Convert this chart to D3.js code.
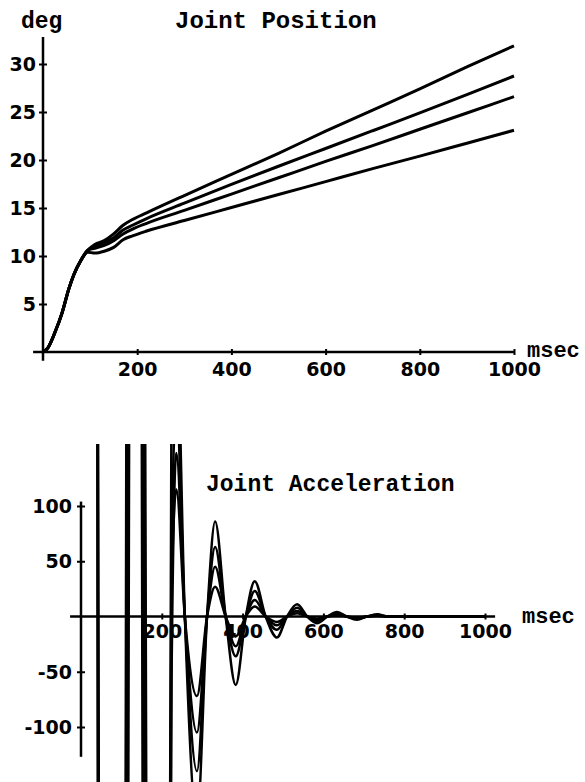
<!DOCTYPE html>
<html>
<head>
<meta charset="utf-8">
<script src="https://cdn.jsdelivr.net/npm/d3@7"></script>
<style>
  body { margin: 0; background: #fff; }
  svg { display: block; }
  .tick text { font-family: "DejaVu Sans", sans-serif; font-weight: bold; font-size: 19px; fill: #000; }
  .mono { font-family: "Liberation Mono", "Courier New", monospace; font-weight: bold; fill: #000; }
</style>
</head>
<body>
<script>
// Joint position (deg) against time (msec), four trials
const posTime = [0, 10, 25, 40, 55, 65, 80, 95, 110, 130, 150, 170, 190, 220, 300, 400, 500, 600, 700, 800, 900, 1000];
const posA = [0, 0.4, 2.0, 4.0, 6.6, 8.0, 9.5, 10.6, 11.2, 11.6, 12.3, 13.2, 13.8, 14.5, 16.3, 18.5, 20.7, 23.0, 25.2, 27.4, 29.7, 31.9];
const posB = [0, 0.4, 2.0, 4.0, 6.6, 8.0, 9.5, 10.6, 11.0, 11.4, 11.9, 12.7, 13.2, 13.9, 15.5, 17.45, 19.35, 21.2, 23.05, 24.9, 26.8, 28.75];
const posC = [0, 0.4, 2.0, 4.0, 6.6, 8.0, 9.5, 10.6, 10.8, 11.1, 11.6, 12.3, 12.8, 13.4, 14.75, 16.45, 18.15, 19.85, 21.5, 23.2, 24.9, 26.6];
const posD = [0, 0.4, 2.0, 4.0, 6.6, 8.0, 9.5, 10.4, 10.3, 10.5, 10.9, 11.7, 12.1, 12.6, 13.7, 15.05, 16.4, 17.75, 19.1, 20.4, 21.75, 23.1];

// Joint acceleration against time (msec); early spikes run far off the plot
const accTime = [0, 34, 50, 104, 124, 144, 168, 208, 224, 236, 257, 287, 312, 332, 358, 383, 408, 430, 457, 485, 510, 535, 560, 584, 610, 634, 658, 683, 708, 733, 760, 1000];
const accA = [1500, 1500, -1500, -1500, 1500, 1500, -1500, -1500, 200, 260, 0, -185, 0, 86, 0, -62, 0, 32, 0, -19, 0, 11, 0, -6, 0, 4, 0, -3, 0, 2, 0, 0];
const accB = [1300, 1300, -1700, -1000, 2000, 1000, -2000, -1500, 60, 190, 0, -140, 0, 63, 0, -36, 0, 23, 0, -12, 0, 8, 0, -4, 0, 3, 0, -2, 0, 1.5, 0, 0];
const accC = [1700, 1700, -1300, -2000, 1000, 2000, -1000, -1500, -60, 148, 0, -105, 0, 45, 0, -27, 0, 15, 0, -8, 0, 5, 0, -3, 0, 2, 0, -1.5, 0, 1, 0, 0];
const accD = [1400, 1400, -1600, -1200, 1800, 1800, -1200, -1500, 20, 115, 0, -72, 0, 27, 0, -18, 0, 9, 0, -5, 0, 3, 0, -2, 0, 1, 0, -1, 0, 0.5, 0, 0];

const timeTicks = [200, 400, 600, 800, 1000];
const posTicks = [5, 10, 15, 20, 25, 30];
const accTicks = [-100, -50, 50, 100];

const W = 585, H = 782;
const svg = d3.select('body').append('svg')
  .attr('width', W)
  .attr('height', H);

svg.append('rect').attr('width', W).attr('height', H).attr('fill', '#fff');

// ---------- top: joint position ----------
const x1 = d3.scaleLinear().domain([0, 1000]).range([43, 514]);
const y1 = d3.scaleLinear().domain([0, 30]).range([352, 64]);

const posG = svg.append('g');

// axis lines (extend a little past the origin, like the original plot)
posG.append('line')
  .attr('x1', x1(-21)).attr('x2', x1(1000))
  .attr('y1', y1(0)).attr('y2', y1(0))
  .attr('stroke', '#000').attr('stroke-width', 2.5);
posG.append('line')
  .attr('x1', x1(0)).attr('x2', x1(0))
  .attr('y1', y1(-0.9)).attr('y2', y1(32.8))
  .attr('stroke', '#000').attr('stroke-width', 2.5);

posG.append('g')
  .attr('transform', `translate(0,${y1(0)})`)
  .call(d3.axisBottom(x1).tickValues(timeTicks).tickSizeOuter(0).tickFormat(d => String(d)))
  .call(g => g.select('.domain').remove())
  .call(g => g.selectAll('.tick line').attr('y1', -3).attr('y2', 3).attr('stroke', '#000').attr('stroke-width', 2))
  .call(g => g.selectAll('.tick text').attr('y', 11).attr('dy', '0.71em'));

posG.append('g')
  .attr('transform', `translate(${x1(0)},0)`)
  .call(d3.axisLeft(y1).tickValues(posTicks).tickSizeOuter(0).tickFormat(d => String(d)))
  .call(g => g.select('.domain').remove())
  .call(g => g.selectAll('.tick line').attr('x1', -4).attr('x2', 4).attr('stroke', '#000').attr('stroke-width', 2))
  .call(g => g.selectAll('.tick text').attr('x', -7).attr('dy', '0.35em'));

const posLine = d3.line()
  .x((d, i) => x1(posTime[i]))
  .y(d => y1(d))
  .curve(d3.curveMonotoneX);

posG.append('g')
  .selectAll('path')
  .data([posA, posB, posC, posD])
  .join('path')
  .attr('d', posLine)
  .attr('fill', 'none')
  .attr('stroke', '#000')
  .attr('stroke-width', 3);

posG.append('text').attr('class', 'mono')
  .attr('x', 21).attr('y', 28).attr('font-size', 23).text('deg');
posG.append('text').attr('class', 'mono')
  .attr('x', 175).attr('y', 28).attr('font-size', 24).text('Joint Position');
posG.append('text').attr('class', 'mono')
  .attr('x', 527).attr('y', 357).attr('font-size', 22).text('msec');

// ---------- bottom: joint acceleration ----------
const x2 = d3.scaleLinear().domain([0, 1000]).range([81, 485]);
const y2 = d3.scaleLinear().domain([-100, 100]).range([727, 506]);

const accG = svg.append('g');

accG.append('clipPath').attr('id', 'accClip')
  .append('rect')
  .attr('x', x2(0)).attr('y', 444)
  .attr('width', x2(1000) - x2(0)).attr('height', H - 444 + 10);

accG.append('g')
  .attr('transform', `translate(0,${y2(0)})`)
  .call(d3.axisBottom(x2).tickValues(timeTicks).tickSizeOuter(0).tickFormat(d => String(d)))
  .call(g => g.select('.domain').remove())
  .call(g => g.selectAll('.tick line').attr('y1', -3).attr('y2', 3).attr('stroke', '#000').attr('stroke-width', 2))
  .call(g => g.selectAll('.tick text').attr('y', 8).attr('dy', '0.71em'));

accG.append('g')
  .attr('transform', `translate(${x2(0)},0)`)
  .call(d3.axisLeft(y2).tickValues(accTicks).tickSizeOuter(0).tickFormat(d => String(d)))
  .call(g => g.select('.domain').remove())
  .call(g => g.selectAll('.tick line').attr('x1', -4).attr('x2', 4).attr('stroke', '#000').attr('stroke-width', 2))
  .call(g => g.selectAll('.tick text').attr('x', -9).attr('dy', '0.35em'));

accG.append('line')
  .attr('x1', x2(-27)).attr('x2', x2(1025))
  .attr('y1', y2(0)).attr('y2', y2(0))
  .attr('stroke', '#000').attr('stroke-width', 2.5);
accG.append('line')
  .attr('x1', x2(0)).attr('x2', x2(0))
  .attr('y1', y2(-127)).attr('y2', y2(104))
  .attr('stroke', '#000').attr('stroke-width', 2.5);

const accLine = d3.line()
  .x((d, i) => x2(accTime[i]))
  .y(d => y2(d))
  .curve(d3.curveMonotoneX);

accG.append('g')
  .attr('clip-path', 'url(#accClip)')
  .selectAll('path')
  .data([accA, accB, accC, accD])
  .join('path')
  .attr('d', accLine)
  .attr('fill', 'none')
  .attr('stroke', '#000')
  .attr('stroke-width', 2.5);

accG.append('text').attr('class', 'mono')
  .attr('x', 206).attr('y', 491).attr('font-size', 23).text('Joint Acceleration');
accG.append('text').attr('class', 'mono')
  .attr('x', 522).attr('y', 623).attr('font-size', 22).text('msec');
</script>
</body>
</html>
